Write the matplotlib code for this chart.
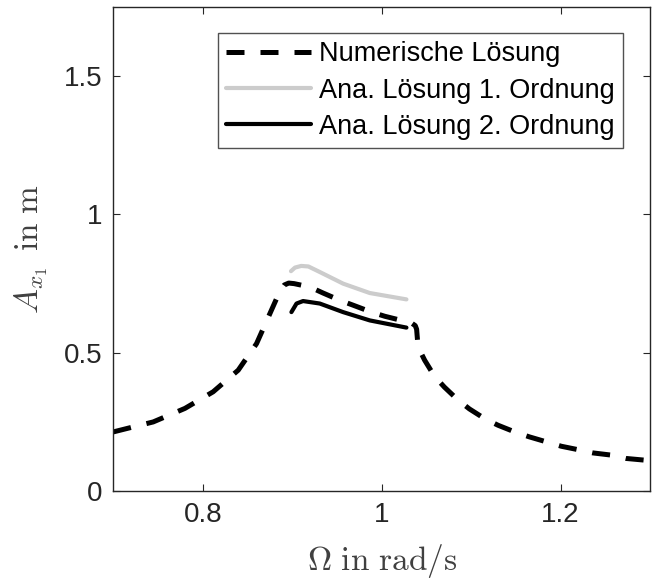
import matplotlib
matplotlib.use("Agg")
import matplotlib.pyplot as plt

plt.rcParams["font.family"] = ["Liberation Sans", "DejaVu Sans"]
plt.rcParams["mathtext.fontset"] = "cm"

# numerische Lösung
om_num = [0.700, 0.7445, 0.780, 0.8115, 0.8395, 0.860, 0.875, 0.886, 0.891, 0.896,
          0.902, 0.9195, 0.9344, 0.953, 0.968, 0.9885, 1.0034, 1.0257, 1.034,
          1.0375, 1.039, 1.0406, 1.048, 1.059, 1.070, 1.085, 1.098, 1.115, 1.130,
          1.1486, 1.165, 1.184, 1.2008, 1.219, 1.236, 1.2567, 1.273, 1.300]
a_num = [0.214, 0.250, 0.299, 0.359, 0.437, 0.533, 0.642, 0.722, 0.745, 0.752,
         0.750, 0.738, 0.716, 0.690, 0.672, 0.647, 0.632, 0.614, 0.606,
         0.598, 0.585, 0.521, 0.473, 0.415, 0.376, 0.330, 0.297, 0.262, 0.238,
         0.214, 0.196, 0.178, 0.162, 0.150, 0.138, 0.130, 0.118, 0.110]

# analytische Lösung 1. Ordnung
om_1 = [0.8985, 0.903, 0.910, 0.918, 0.9307, 0.9568, 0.9866, 1.0276]
a_1 = [0.795, 0.808, 0.814, 0.812, 0.792, 0.750, 0.716, 0.693]

# analytische Lösung 2. Ordnung
om_2 = [0.899, 0.9047, 0.912, 0.9307, 0.9568, 0.9866, 1.0276]
a_2 = [0.647, 0.678, 0.687, 0.678, 0.647, 0.617, 0.591]

labels = ["Numerische Lösung", "Ana. Lösung 1. Ordnung", "Ana. Lösung 2. Ordnung"]

fig = plt.figure(figsize=(6.52, 5.86), dpi=100)
ax = fig.add_axes([0.174, 0.162, 0.823, 0.826])

ax.plot(om_num, a_num, color="black", lw=3.6, linestyle=(0, (3.6, 3.2)),
        dash_capstyle="butt", label=labels[0])
ax.plot(om_1, a_1, color="#cccccc", lw=3.0, solid_capstyle="round", label=labels[1])
ax.plot(om_2, a_2, color="black", lw=3.0, solid_capstyle="round", label=labels[2])

ax.set_xlim(0.7, 1.3)
ax.set_ylim(0, 1.75)
ax.set_xticks([0.8, 1.0, 1.2])
ax.set_xticklabels(["0.8", "1", "1.2"])
ax.set_yticks([0, 0.5, 1.0, 1.5])
ax.set_yticklabels(["0", "0.5", "1", "1.5"])

tc = "#262626"
for s in ax.spines.values():
    s.set_color(tc)
    s.set_linewidth(1.0)
ax.tick_params(direction="in", length=5, width=0.8, colors=tc, labelsize=20,
               top=True, right=True, pad=8)

ax.set_xlabel(r"$\Omega\ \mathrm{in\ rad/s}$", fontsize=24, color="#404040", labelpad=10)
ax.set_ylabel(r"$A_{x_1}\;\,\mathrm{in\ m}$", fontsize=24, color="#404040", labelpad=10)

leg = ax.legend(loc="upper right", bbox_to_anchor=(0.950, 0.946), borderaxespad=0,
                fontsize=19.5, frameon=True, fancybox=False, handlelength=3.15,
                handletextpad=0.3, labelspacing=0.38, borderpad=0.3)
leg.get_frame().set_edgecolor(tc)
leg.get_frame().set_linewidth(1.0)

fig.savefig("out.png", dpi=100)
